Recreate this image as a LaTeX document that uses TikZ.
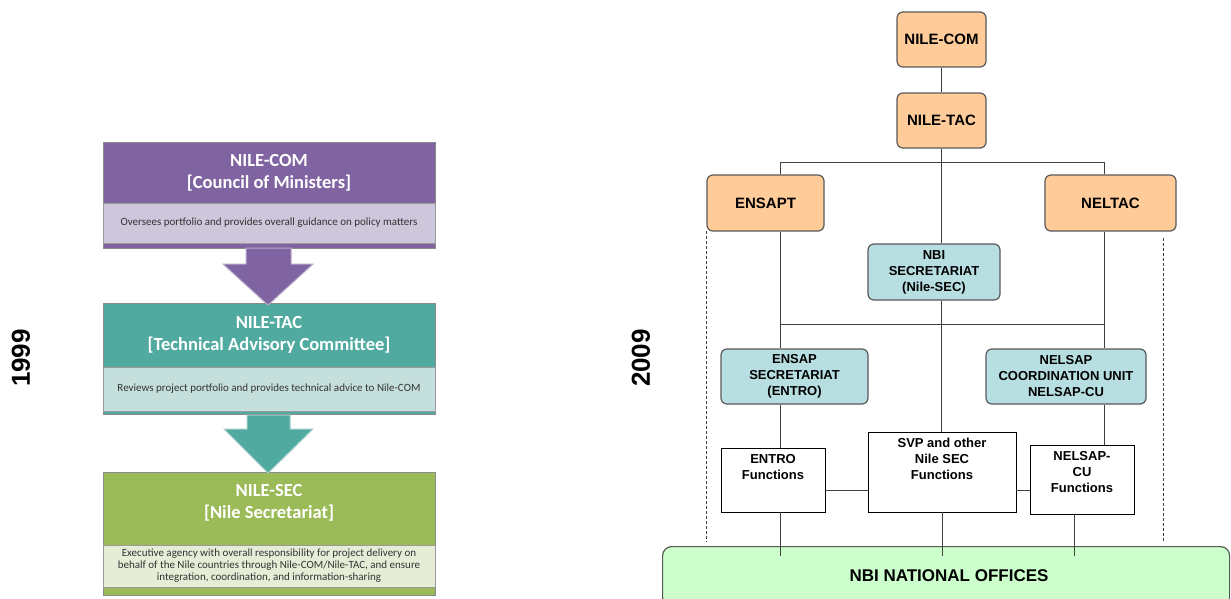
\documentclass[tikz,border=0pt]{standalone}
\usepackage{fontspec}
\newfontfamily\arialf{Liberation Sans}
\newfontfamily\calf{Carlito}
\usetikzlibrary{calc}
\definecolor{purp}{HTML}{8064A2}
\definecolor{purpL}{HTML}{CEC6DB}
\definecolor{tealc}{HTML}{50AAA0}
\definecolor{tealL}{HTML}{C5DFDC}
\definecolor{grn}{HTML}{9BBB59}
\definecolor{grnL}{HTML}{E6EDD6}
\definecolor{peach}{HTML}{FFCC99}
\definecolor{lblue}{HTML}{B7DEE1}
\definecolor{lgreen}{HTML}{CCFFCC}
\definecolor{bord}{HTML}{595959}
\definecolor{lin}{HTML}{404040}
\tikzset{
  outerbox/.style={draw=bord!70, line width=0.6pt, minimum width=332, anchor=north west, inner sep=0pt},
  descband/.style={draw=bord!60, line width=0.5pt, minimum width=332, anchor=north west, inner sep=0pt},
  hdrtext/.style={text=white, font=\calf\bfseries\fontsize{18.5}{22}\selectfont, align=center, inner sep=0pt},
  desctext/.style={text=black!80, font=\calf\fontsize{11}{12}\selectfont, align=center, inner sep=0pt},
  yeartext/.style={rotate=90, font=\arialf\bfseries\fontsize{26}{30}\selectfont, inner sep=0pt},
  orgbox/.style={draw=bord, line width=1.2pt, rounded corners=6pt, fill=peach, align=center, inner sep=0pt,
    font=\arialf\bfseries\fontsize{15}{18}\selectfont},
  secbox/.style={orgbox, fill=lblue, font=\arialf\bfseries\fontsize{13}{16}\selectfont},
  funcbox/.style={draw=black, line width=0.9pt, fill=white, inner sep=0pt},
  funclabel/.style={anchor=north, align=center, inner sep=7pt, font=\arialf\bfseries\fontsize{13}{16}\selectfont},
  conn/.style={draw=lin, line width=0.9pt},
  dashline/.style={draw=lin, line width=0.9pt, dash pattern=on 3pt off 2pt},
  arrowshape/.style={line width=1pt, line join=miter}
}
\begin{document}
\begin{tikzpicture}[x=1pt,y=-1pt]
\useasboundingbox (0,0) rectangle (1231,598);
\clip (0,0) rectangle (1231,598);
\fill[white] (0,0) rectangle (1231,598);

% ---------- left panel (1999) ----------
\node[yeartext] (y1999) at (21,358) {1999};

\node[outerbox, fill=purp, minimum height=106] (comO) at (103,142) {};
\node[descband, fill=purpL, minimum height=40] (comD) at (103,203) {};
\node[hdrtext] (comT) at (269,172.5) {NILE-COM\\{[Council of Ministers]}};
\node[desctext] (comX) at (269,223) {Oversees portfolio and provides overall guidance on policy matters};

\node[outerbox, fill=tealc, minimum height=111] (tacO) at (103,303) {};
\node[descband, fill=tealL, minimum height=44] (tacD) at (103,367) {};
\node[hdrtext] (tacT) at (269,335) {NILE-TAC\\{[Technical Advisory Committee]}};
\node[desctext] (tacX) at (269,389) {Reviews project portfolio and provides technical advice to Nile-COM};

\node[outerbox, fill=grn, minimum height=123] (secO) at (103,472) {};
\node[descband, fill=grnL, minimum height=42] (secD) at (103,545) {};
\node[hdrtext] (secT) at (269,502.5) {NILE-SEC\\{[Nile Secretariat]}};
\node[desctext] (secX) at (269,566) {Executive agency with overall responsibility for project delivery on\\
behalf of the Nile countries through Nile-COM/Nile-TAC, and ensure\\
integration, coordination, and information-sharing};

\filldraw[arrowshape, fill=purp, draw=purpL!70!purp]
  (246,248) -- (291,248) -- (291,264) -- (313,264) -- (268,305) -- (223,264) -- (246,264) -- cycle;
\filldraw[arrowshape, fill=tealc, draw=tealL!70!tealc]
  (247,415) -- (290,415) -- (290,429) -- (313,429) -- (268,473) -- (224,429) -- (247,429) -- cycle;

% ---------- right panel (2009) ----------
\node[yeartext] (y2009) at (641,358) {2009};

\node[orgbox, minimum width=89, minimum height=55] (ncom) at (941.5,39.5) {NILE-COM};
\node[orgbox, minimum width=89, minimum height=55] (ntac) at (941.5,120.5) {NILE-TAC};
\node[orgbox, minimum width=117, minimum height=56] (ensapt) at (765.5,203) {ENSAPT};
\node[orgbox, minimum width=131, minimum height=56] (neltac) at (1110.5,203) {NELTAC};
\node[secbox, minimum width=132, minimum height=56] (nbisec) at (934,272) {NBI\\SECRETARIAT\\(Nile-SEC)};
\node[secbox, minimum width=147, minimum height=55] (ensapsec) at (794.5,376.5) {ENSAP\\SECRETARIAT\\(ENTRO)};
\node[secbox, minimum width=160, minimum height=55] (nelsap) at (1066,376.5) {NELSAP\\COORDINATION UNIT\\NELSAP-CU};

\node[funcbox, minimum width=104, minimum height=64,
  label={[funclabel]north:ENTRO\\Functions}] (entrof) at (773,480) {};
\node[funcbox, minimum width=148, minimum height=80,
  label={[funclabel, inner sep=6pt]north:SVP and other\\Nile SEC\\Functions}] (svp) at (942,472) {};
\node[funcbox, minimum width=104, minimum height=69,
  label={[funclabel]north:NELSAP-\\CU\\Functions}] (nelsapf) at (1082,479.5) {};

\node[draw=bord, line width=1.2pt, rounded corners=9pt, fill=lgreen, minimum width=567, minimum height=60,
  anchor=north west, inner sep=0pt] (nbino) at (662,546) {};
\node[font=\arialf\bfseries\fontsize{17}{20}\selectfont, inner sep=0pt] (nbinoT) at (949,576) {NBI NATIONAL OFFICES};

% coordinates
\coordinate (bus1L) at (780,162);
\coordinate (bus1R) at (1104,162);
\coordinate (bus2L) at (780,324);
\coordinate (bus2R) at (1104,324);
\coordinate (hy) at (0,490);
\coordinate (low) at (0,556);
\coordinate (nfx) at (1074.5,0);
\coordinate (dLtop) at (706,231);
\coordinate (dLbot) at (706,542);
\coordinate (dRtop) at (1163,238);
\coordinate (dRbot) at (1163,542);

% connectors
\draw[conn] (ncom.south) -- (ntac.north);
\draw[conn] (ntac.south) -- (ntac.south |- nbisec.north);
\draw[conn] (bus1L) -- (bus1R);
\draw[conn] (bus1L) -- (bus1L |- ensapt.north);
\draw[conn] (bus1R) -- (bus1R |- neltac.north);
\draw[conn] (bus1L |- ensapt.south) -- (bus1L |- ensapsec.north);
\draw[conn] (bus1R |- neltac.south) -- (bus1R |- nelsap.north);
\draw[conn] (bus2L) -- (bus2R);
\draw[conn] (ntac.south |- nbisec.south) -- (ntac.south |- svp.north);
\draw[conn] (bus1L |- ensapsec.south) -- (bus1L |- entrof.north);
\draw[conn] (bus1R |- nelsap.south) -- (bus1R |- nelsapf.north);
\draw[conn] (entrof.east |- hy) -- (svp.west |- hy);
\draw[conn] (svp.east |- hy) -- (nelsapf.west |- hy);
\draw[conn] (bus1L |- entrof.south) -- (bus1L |- low);
\draw[conn] (svp.south) -- (svp.south |- low);
\draw[conn] (nfx |- nelsapf.south) -- (nfx |- low);
\draw[dashline] (dLtop) -- (dLbot);
\draw[dashline] (dRtop) -- (dRbot);
\end{tikzpicture}
\end{document}
